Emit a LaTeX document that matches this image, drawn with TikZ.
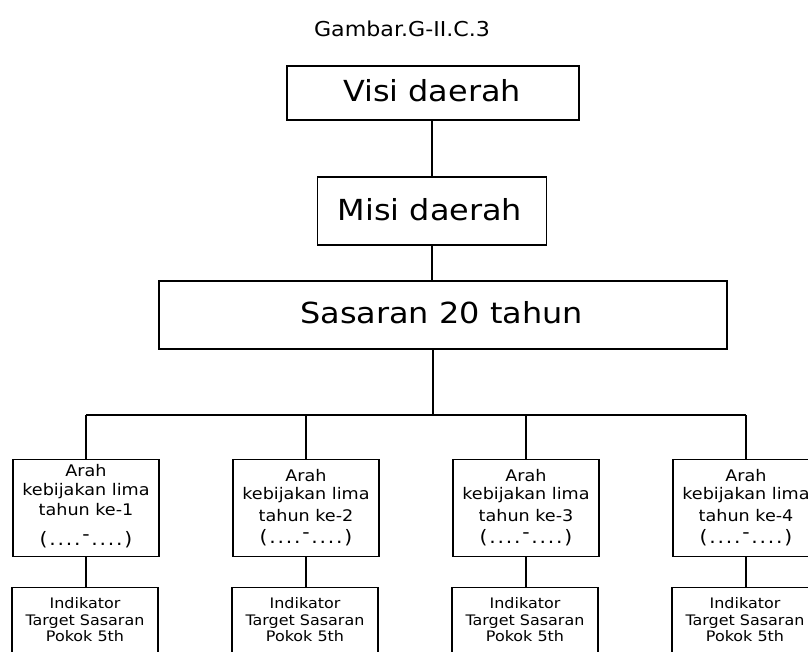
\documentclass[tikz,border=0pt]{standalone}
\usepackage{fontspec}
\setmainfont{DejaVu Sans}
% horizontally widened text
\newcommand{\wide}[1]{\scalebox{1.1}[1]{#1}}
\newcommand{\pl}{\kern1.6pt}
\newcommand{\period}{(\pl.\pl.\pl.\pl.\pl\raisebox{0.22em}{-}\pl.\pl.\pl.\pl.\pl)}
\begin{document}
\begin{tikzpicture}[x=1pt,y=-1pt,
  box/.style={draw=black, line width=1.4pt, fill=white, inner sep=0pt},
  wire/.style={draw=black, line width=1.4pt},
  bigtext/.style={anchor=base, inner sep=0pt, font=\fontsize{29}{34}\selectfont},
  titletext/.style={anchor=base, inner sep=0pt, font=\fontsize{20.5}{24}\selectfont},
  arahtext/.style={anchor=base, inner sep=0pt, font=\fontsize{16}{19}\selectfont},
  periodtext/.style={anchor=base, inner sep=0pt, font=\fontsize{18.5}{22}\selectfont},
  indtext/.style={anchor=base, inner sep=0pt, font=\fontsize{14.5}{17}\selectfont}]
\clip (0,0) rectangle (808,651);
\fill[white] (0,0) rectangle (808,651);

% title
\node[titletext] (title) at (402,36) {\scalebox{1.08}[1]{Gambar.G-II.C.3}};

% upper chain
\node[box, minimum width=292pt, minimum height=54pt] (visi) at (433,93) {};
\node[box, minimum width=229pt, minimum height=68pt] (misi) at (432,211) {};
\node[box, minimum width=568pt, minimum height=68pt] (sas) at (443,315) {};
\node[bigtext] (visiT) at (432,101.7) {\wide{Visi daerah}};
\node[bigtext] (misiT) at (430,220) {\wide{Misi daerah}};
\node[bigtext] (sasT) at (441.5,323.3) {\wide{Sasaran 20 tahun}};

\draw[wire] (misi.north) -- (misi.north |- visi.south);
\draw[wire] (misi.south) -- (misi.south |- sas.north);

% distribution bar
\coordinate (busL) at (86,415);
\coordinate (busR) at (746,415);
\coordinate (busM) at (433,415);
\draw[wire] (busM |- sas.south) -- (busM);
\draw[wire] (busL) -- (busR);

% five-year policy boxes and indicator boxes
\foreach \i/\x/\ya/\yb/\yc/\yd in {1/86/476/495/515/545, 2/306/481/499/521/543,
                                   3/526/481/499/521/543, 4/746/481/499/521/543}{
  \node[box, minimum width=146pt, minimum height=97pt] (arah\i) at (\x,508) {};
  \node[box, minimum width=146pt, minimum height=80pt] (ind\i) at (\x-1,627.5) {};
  \draw[wire] (arah\i.north) -- (arah\i.north |- busL);
  \draw[wire] (arah\i.south) -- (arah\i.south |- ind\i.north);
  \node[arahtext] (arah\i a) at (\x,\ya) {\wide{Arah}};
  \node[arahtext] (arah\i b) at (\x,\yb) {\wide{kebijakan lima}};
  \node[arahtext] (arah\i c) at (\x,\yc) {\wide{tahun ke-\i}};
  \node[periodtext] (arah\i d) at (\x,\yd) {\wide{\period}};
  \node[indtext] (ind\i a) at (\x-1,608) {\wide{Indikator}};
  \node[indtext] (ind\i b) at (\x-1,625) {\wide{Target Sasaran}};
  \node[indtext] (ind\i c) at (\x-1,641.5) {\wide{Pokok 5th}};
}
\end{tikzpicture}
\end{document}
